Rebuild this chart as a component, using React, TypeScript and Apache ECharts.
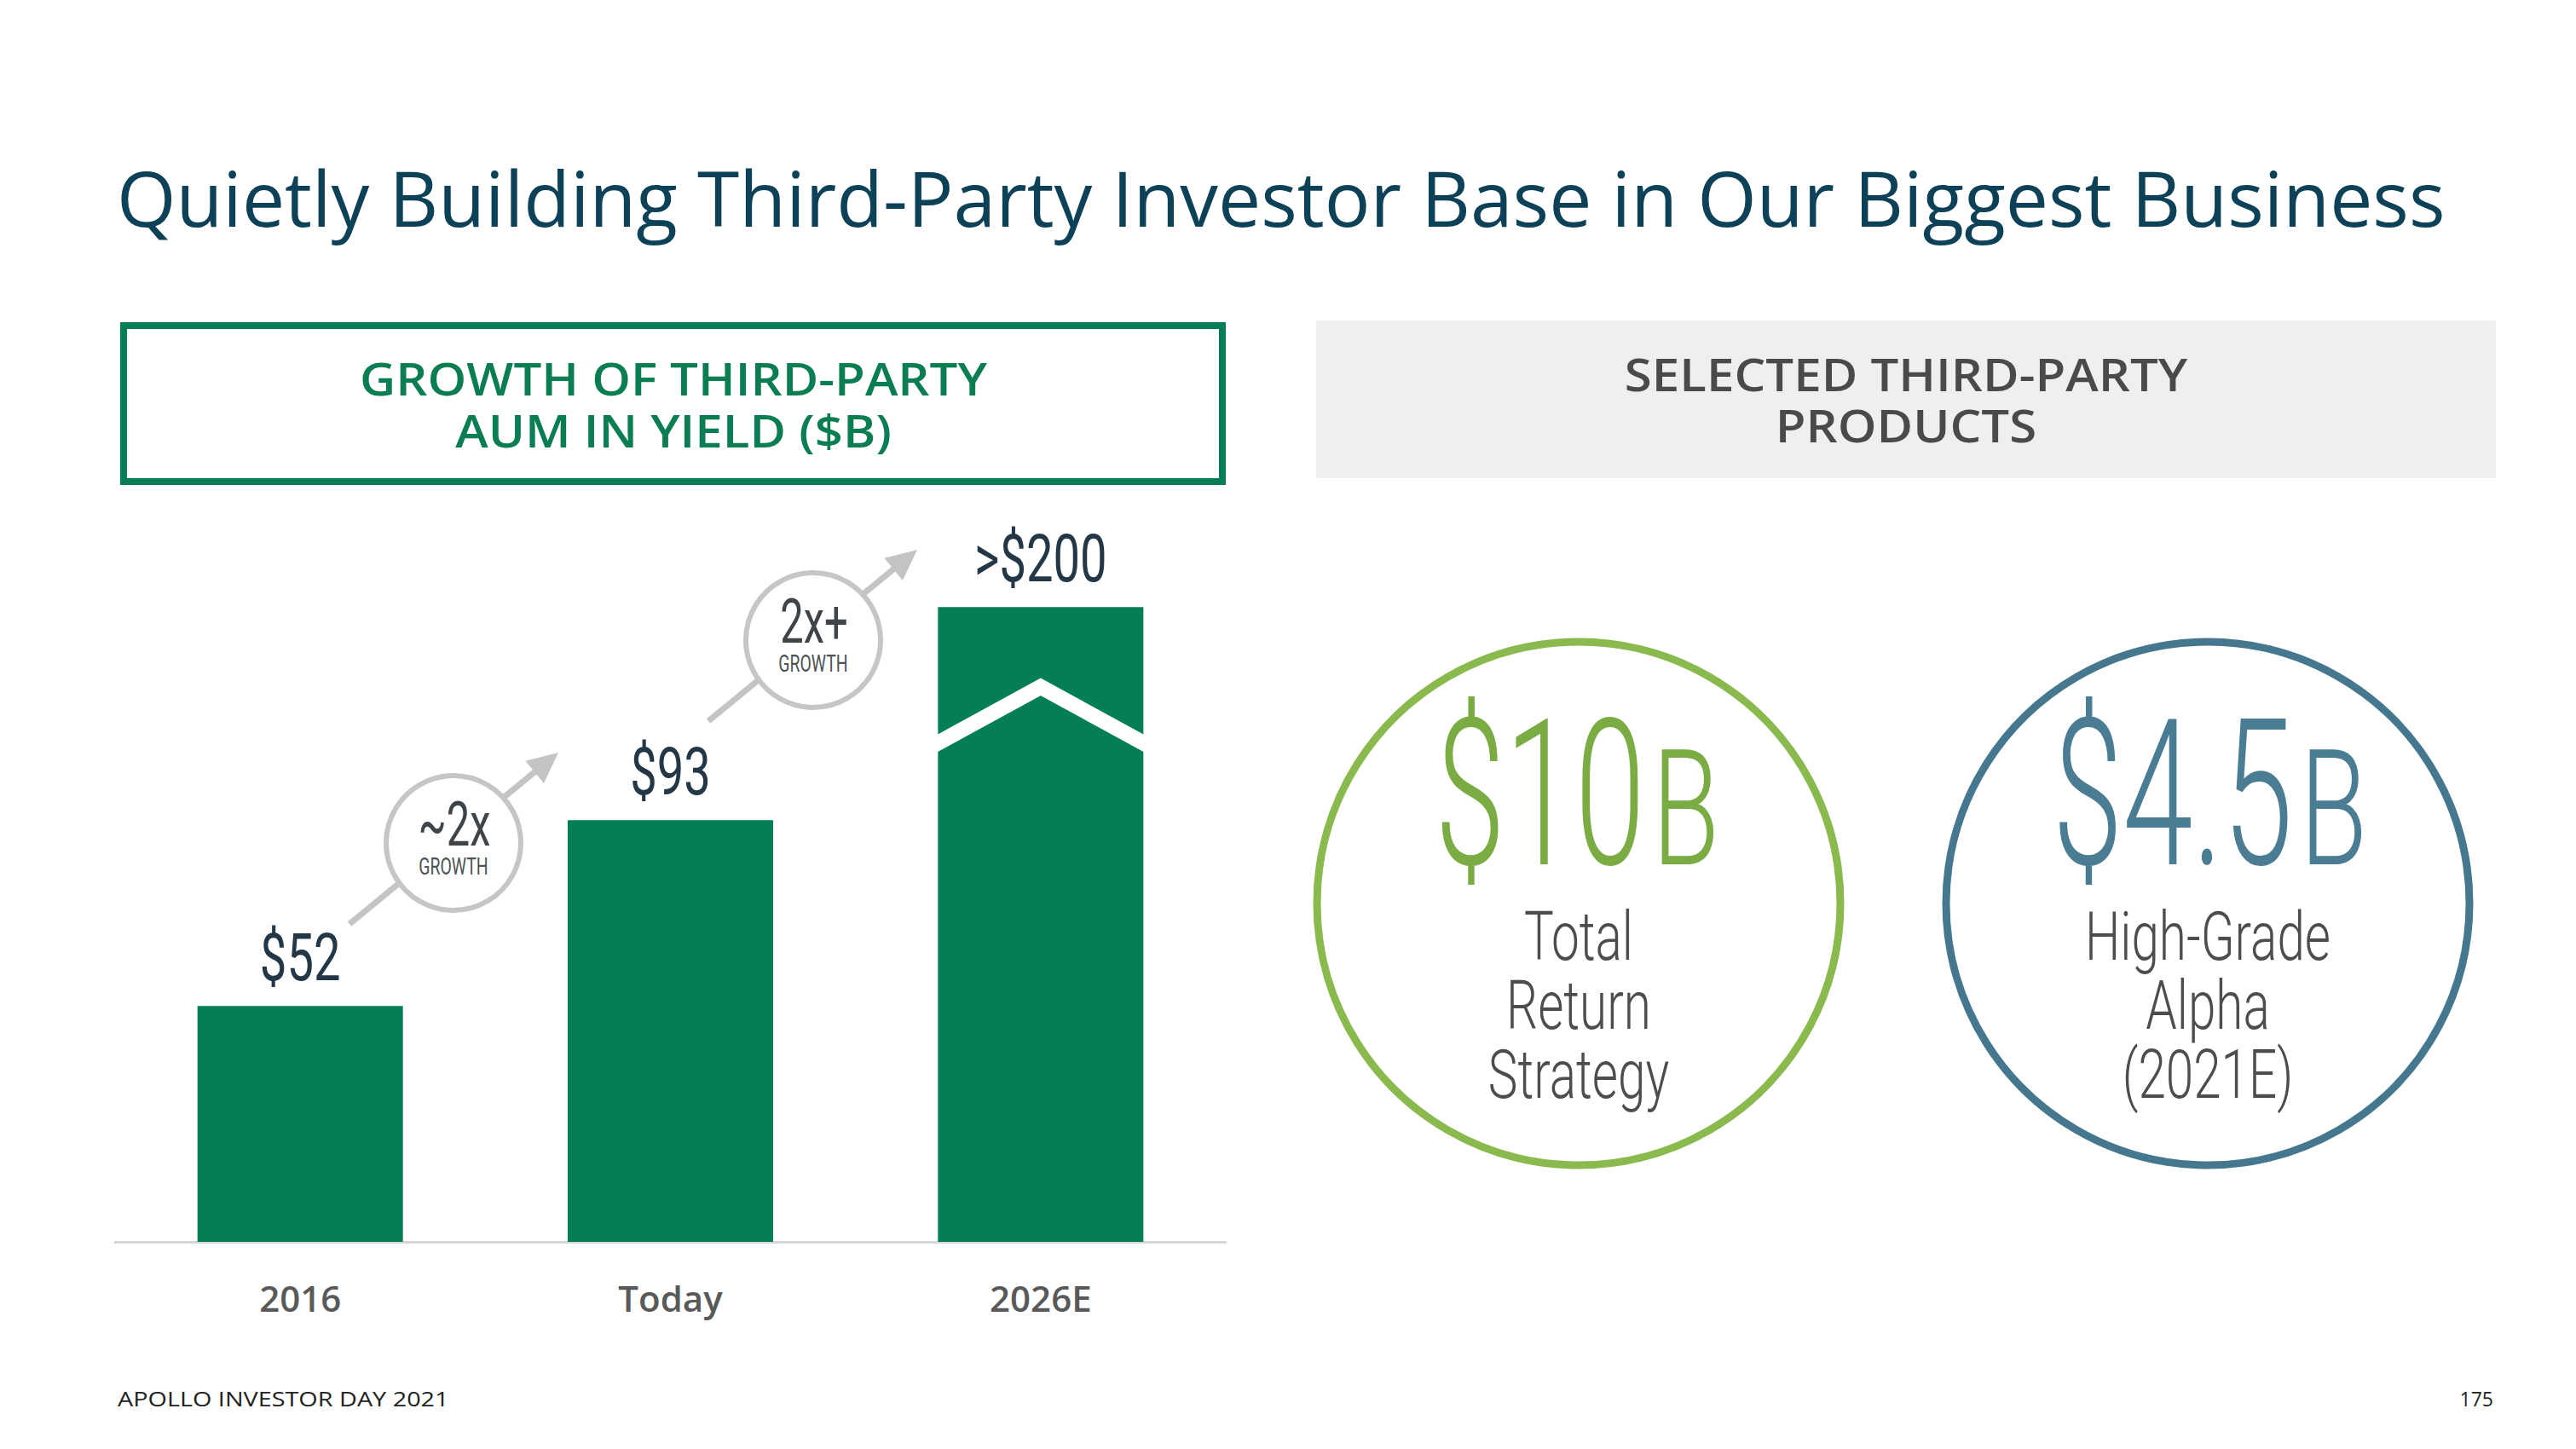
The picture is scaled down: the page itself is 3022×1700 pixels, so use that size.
import React, { useEffect, useRef } from "react";
import * as echarts from "echarts";

// ---------- data ----------
const categories = ["2016", "Today", "2026E"];
const aumValues = [52, 93, 200]; // third-party AUM in Yield, $B
const valueLabels = ["$52", "$93", ">$200"];
const growthLabels = ["~2x", "2x+"];
const growthSubLabel = "GROWTH";
const productAmounts = [
  ["$10", "B"],
  ["$4.5", "B"],
];
const productNames = [
  ["Total", "Return", "Strategy"],
  ["High-Grade", "Alpha", "(2021E)"],
];
// bars above this value are drawn shortened, with a break chevron
const AXIS_BREAK_AT = 140;
const BREAK_EDGE_VALUE = 110;
const BREAK_PEAK_VALUE = 122.4;

const W = 3022;
const H = 1700;

const BAR_GREEN = "#047e55";
const COND = "Roboto";

function txt(text: string, x: number, y: number, o: any) {
  const align = o.align || "center";
  const style: any = {
    text,
    fill: o.fill,
    fontSize: o.fontSize,
    fontFamily: o.fontFamily || "Open Sans",
    fontWeight: o.fontWeight || 400,
    align,
    textAlign: align,
    verticalAlign: "middle",
    textVerticalAlign: "middle",
  };
  if (o.lineHeight) style.lineHeight = o.lineHeight;
  return {
    type: "text",
    x,
    y,
    scaleX: o.scaleX ?? 1,
    z: o.z ?? 30,
    silent: true,
    style,
  };
}

function buildGraphics(chart: any) {
  const els: any[] = [];
  const px = (i: number, v: number) => chart.convertToPixel({ gridIndex: 0 }, [i, v]);

  // title
  els.push(
    txt("Quietly Building Third-Party Investor Base in Our Biggest Business", 137, 231, {
      fontSize: 89.4,
      fill: "#0c4157",
      align: "left",
    })
  );

  // left header box
  els.push({
    type: "rect",
    shape: { x: 145, y: 382, width: 1289, height: 183 },
    style: { fill: "#fff", stroke: BAR_GREEN, lineWidth: 8 },
    z: 5,
    silent: true,
  });
  els.push(
    txt("GROWTH OF THIRD-PARTY\nAUM IN YIELD ($B)", 790, 474, {
      fontSize: 52,
      lineHeight: 61,
      fontWeight: 600,
      fill: "#0b7d52",
      scaleX: 1.12,
    })
  );

  // right header box
  els.push({
    type: "rect",
    shape: { x: 1544, y: 376, width: 1384, height: 185 },
    style: { fill: "#f0efee" },
    z: 5,
    silent: true,
  });
  els.push(
    txt("SELECTED THIRD-PARTY\nPRODUCTS", 2236, 469, {
      fontSize: 52,
      lineHeight: 60,
      fontWeight: 600,
      fill: "#4a4a4a",
      scaleX: 1.12,
    })
  );

  // bar value labels
  aumValues.forEach((v, i) => {
    const p = px(i, Math.min(v, AXIS_BREAK_AT));
    els.push(
      txt(valueLabels[i], p[0], p[1] - 57, {
        fontSize: 78,
        fontFamily: COND,
        scaleX: 0.72,
        fill: "#243746",
      })
    );
  });

  // axis-break chevron on the shortened bar
  const bi = aumValues.findIndex((v) => v > AXIS_BREAK_AT);
  if (bi >= 0) {
    const c = px(bi, BREAK_PEAK_VALUE);
    const e = px(bi, BREAK_EDGE_VALUE);
    const half = 241 / 2;
    const slope = (e[1] - c[1]) / half;
    const ext = 14;
    els.push({
      type: "polyline",
      shape: {
        points: [
          [c[0] - half - ext, e[1] + slope * ext],
          [c[0], c[1]],
          [c[0] + half + ext, e[1] + slope * ext],
        ],
      },
      style: { stroke: "#ffffff", lineWidth: 18, fill: null, lineJoin: "miter" },
      z: 10,
      silent: true,
    });
  }

  // growth arrows with circles
  const arrowStarts = [
    [410, 1084],
    [831, 846],
  ];
  const circleCenters = [
    [532, 989],
    [954, 751],
  ];
  const dx = 245;
  const dy = -201;
  const len = Math.hypot(dx, dy);
  const ux = dx / len;
  const uy = dy / len;
  const gray = "#c4c4c4";
  arrowStarts.forEach((s, i) => {
    const tip = [s[0] + dx, s[1] + dy];
    const headLen = 36;
    const headHalf = 17;
    const base = [tip[0] - ux * headLen, tip[1] - uy * headLen];
    els.push({
      type: "line",
      shape: { x1: s[0], y1: s[1], x2: base[0] + ux * 2, y2: base[1] + uy * 2 },
      style: { stroke: gray, lineWidth: 7 },
      z: 12,
      silent: true,
    });
    els.push({
      type: "polygon",
      shape: {
        points: [
          tip,
          [base[0] - uy * headHalf, base[1] + ux * headHalf],
          [base[0] + uy * headHalf, base[1] - ux * headHalf],
        ],
      },
      style: { fill: gray },
      z: 12,
      silent: true,
    });
    const cc = circleCenters[i];
    els.push({
      type: "circle",
      shape: { cx: cc[0], cy: cc[1], r: 79 },
      style: { fill: "#ffffff", stroke: "#c6c6c6", lineWidth: 6 },
      z: 13,
      silent: true,
    });
    els.push(
      txt(growthLabels[i], cc[0] + 1, cc[1] - 22, {
        fontSize: 72,
        fontFamily: COND,
        scaleX: 0.68,
        fill: "#3f4448",
        z: 14,
      })
    );
    els.push(
      txt(growthSubLabel, cc[0], cc[1] + 28, {
        fontSize: 27,
        fontFamily: COND,
        scaleX: 0.72,
        fill: "#4d5256",
        z: 14,
      })
    );
  });

  // product circles
  const prodCenters = [1852, 2590];
  const prodCy = 1060;
  const prodStroke = ["#8ab94e", "#45788f"];
  const prodText = ["#7aac43", "#4a7c94"];
  const amountRight = [1930, 2690];
  const unitLeft = [1938, 2698];
  productAmounts.forEach((amt, i) => {
    const cx = prodCenters[i];
    els.push({
      type: "circle",
      shape: { cx, cy: prodCy, r: 307 },
      style: { fill: null, stroke: prodStroke[i], lineWidth: 9 },
      z: 12,
      silent: true,
    });
    els.push(
      txt(amt[0], amountRight[i], 933, {
        fontSize: 239,
        fontFamily: COND,
        fontWeight: 300,
        scaleX: 0.62,
        fill: prodText[i],
        align: "right",
      })
    );
    els.push(
      txt(amt[1], unitLeft[i], 949, {
        fontSize: 190,
        fontFamily: COND,
        fontWeight: 300,
        scaleX: 0.68,
        fill: prodText[i],
        align: "left",
      })
    );
    els.push(
      txt(productNames[i].join("\n"), cx, 1180, {
        fontSize: 80,
        lineHeight: 81,
        fontFamily: COND,
        fontWeight: 300,
        scaleX: 0.73,
        fill: "#4d4d4d",
      })
    );
  });

  // footer
  els.push(
    txt("APOLLO INVESTOR DAY 2021", 138, 1641, {
      fontSize: 24,
      fill: "#222222",
      align: "left",
      scaleX: 1.2,
    })
  );
  els.push(txt("175", 2925, 1641, { fontSize: 23, fill: "#222222", align: "right" }));

  return els;
}

export default function App() {
  const ref = useRef<HTMLDivElement>(null);
  useEffect(() => {
    document.body.style.margin = "0";
    document.body.style.overflow = "hidden";
    const chart = echarts.init(ref.current!, null, { renderer: "svg" });
    chart.setOption({
      animation: false,
      backgroundColor: "#ffffff",
      grid: { left: 135, right: W - 1438, top: 393, bottom: H - 1457, containLabel: false },
      xAxis: {
        type: "category",
        data: categories,
        axisLine: { show: true, lineStyle: { color: "#d6d6d6", width: 3 } },
        axisTick: { show: false },
        axisLabel: {
          margin: 44,
          fontSize: 42,
          fontWeight: 600,
          fontFamily: "Open Sans",
          color: "#595959",
        },
      },
      yAxis: {
        type: "value",
        min: 0,
        max: 200,
        show: false,
        splitLine: { show: false },
      },
      series: [
        {
          type: "bar",
          data: aumValues.map((v) => Math.min(v, AXIS_BREAK_AT)),
          barWidth: 241,
          itemStyle: { color: BAR_GREEN },
          z: 2,
        },
      ],
    });
    chart.setOption({ graphic: { elements: buildGraphics(chart) } });
    return () => chart.dispose();
  }, []);
  return <div ref={ref} style={{ width: W, height: H }} />;
}
